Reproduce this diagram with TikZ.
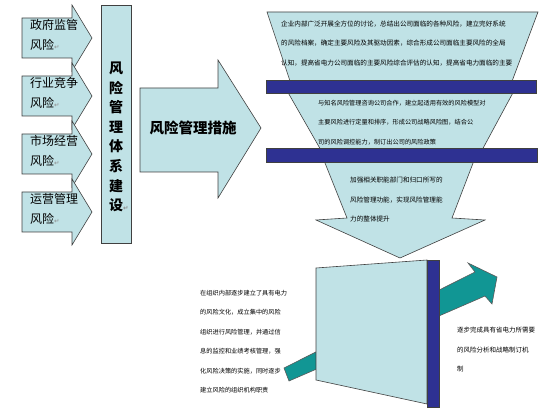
\documentclass[tikz,border=0pt]{standalone}
\usepackage{fontspec}
\setmainfont{Noto Sans CJK SC}
\newfontfamily\markfont{DejaVu Sans}
\usepackage{xcolor}
\usetikzlibrary{calc}

\definecolor{paleblue}{RGB}{192,226,230}
\definecolor{bandblue}{RGB}{46,49,146}
\definecolor{arrowteal}{RGB}{17,150,148}

% paragraph mark as it shows in the picture
\newcommand{\pmark}{{\markfont\fontsize{6.5}{6.5}\selectfont\color{black!45}↵}}

\begin{document}
\begin{tikzpicture}[x=1pt, y=-1pt,
    panel/.style={fill=paleblue, draw=black!75, line width=0.6pt},
    band/.style={fill=bandblue, draw=black!75, line width=0.6pt},
    note/.style={anchor=west, inner sep=0pt, align=left, font=\fontsize{#1}{19.5}\selectfont}]

    \useasboundingbox (0,0) rectangle (560,414);

    % 1. The four risk arrows on the left
    \foreach \risk [count=\i from 0] in {政府监管, 行业竞争, 市场经营, 运营管理} {
        \pgfmathsetmacro{\ytop}{18+58*\i}
        \draw[panel] (22,\ytop) -- (72,\ytop) -- (72,\ytop-13) -- (92,\ytop+20)
            -- (72,\ytop+53) -- (72,\ytop+40) -- (22,\ytop+40) -- cycle;
        \node[anchor=west, inner sep=0pt, align=left, font=\fontsize{12}{20}\selectfont]
            (risk\i) at (30,\ytop+17) {\risk\\风险\pmark};
    }

    % 2. The tall bar
    \draw[panel] (101,5) rectangle (131,243);
    \node[inner sep=0pt, align=center, font=\bfseries\fontsize{14}{19.6}\selectfont]
        (system) at (116,137) {风\\险\\管\\理\\体\\系\\建\\设\rlap{\pmark}};

    % 3. The big arrow
    \draw[panel] (140,88) -- (218,88) -- (218,60) -- (261,128) -- (218,198)
        -- (218,172) -- (140,172) -- cycle;
    \node[inner sep=0pt, font=\bfseries\fontsize{14.5}{14.5}\selectfont]
        (measures) at (193,128) {风险管理措施};

    % 4. The funnel, its two bands and the arrow at its end
    \draw[panel] (267,12) -- (538,12) -- (511,84) -- (291,84) -- cycle;
    \draw[panel] (286,89) -- (515,89) -- (481,152) -- (322,152) -- cycle;
    \draw[panel] (323,158) -- (475,158) -- (452,218) -- (485,220) -- (400,258)
        -- (316,220) -- (347,218) -- cycle;
    \draw[band] (266,80) rectangle (536,93);
    \draw[band] (266,148) rectangle (537,162);

    \node[note=6.6] (topNote) at (281,43.5)
        {企业内部广泛开展全方位的讨论，总结出公司面临的各种风险，建立完好系统\\
         的风险档案，确定主要风险及其驱动因素，综合形成公司面临主要风险的全局\\
         认知，提高省电力公司面临的主要风险综合评估的认知，提高省电力面临的主要};
    \node[note=6.2] (midNote) at (318,122.5)
        {与知名风险管理咨询公司合作，建立起适用有效的风险模型对\\
         主要风险进行定量和排序，形成公司战略风险图，结合公\\
         司的风险调控能力，制订出公司的风险政策};
    \node[note=6.6] (lowNote) at (350,199.5)
        {加强相关职能部门和归口所写的\\
         风险管理功能，实现风险管理能\\
         力的整体提升};

    % 5. The teal arrow behind the plate
    \draw[fill=arrowteal, draw=black!65, line width=0.6pt]
        (284,368) -- (475,272) -- (468,263) -- (497,277) -- (492,304)
        -- (485,296) -- (289,381) -- cycle;

    % 6. The plate and its edge
    \draw[panel] (316,268) -- (427,260) -- (427,404) -- (316,380) -- cycle;
    \draw[band] (427,260) rectangle (439,407);

    % 7. The two notes at the bottom
    \node[note=6.2] (leftNote) at (200,341.5)
        {在组织内部逐步建立了具有电力\\
         的风险文化，成立集中的风险\\
         组织进行风险管理，并通过信\\
         息的监控和业绩考核管理，强\\
         化风险决策的实施，同时逐步\\
         建立风险的组织机构职责};
    \node[note=6.5] (rightNote) at (457,349.5)
        {逐步完成具有省电力所需要\\
         的风险分析和战略制订机\\
         制};

\end{tikzpicture}
\end{document}
